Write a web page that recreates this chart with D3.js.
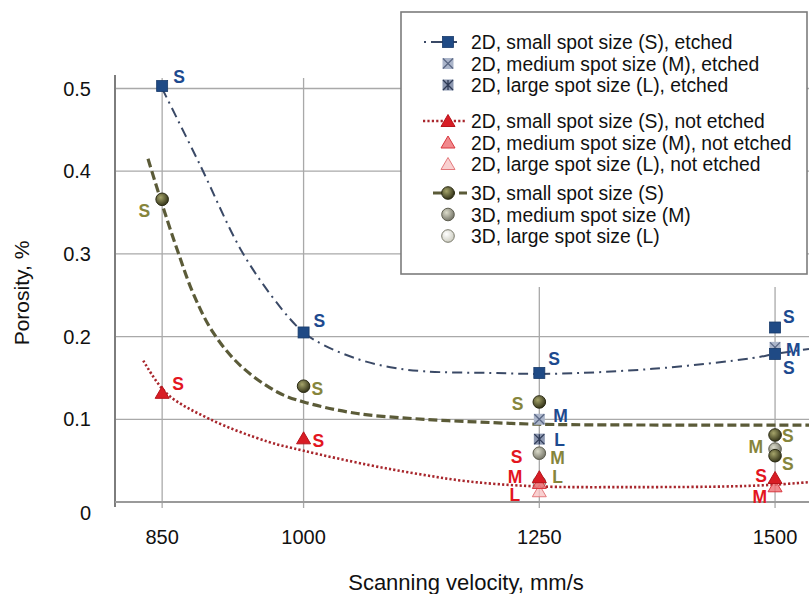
<!DOCTYPE html>
<html>
<head>
<meta charset="utf-8">
<script src="https://cdn.jsdelivr.net/npm/d3@7/dist/d3.min.js"></script>
<style>
  body { margin: 0; background: #fff; }
  svg { display: block; font-family: "Liberation Sans", Arial, sans-serif; }
</style>
</head>
<body>
<svg id="chart" width="809" height="594"></svg>
<script>
const velocityTicks = [850, 1000, 1250, 1500];
const porosityTicks = [0, 0.1, 0.2, 0.3, 0.4, 0.5];

// measured points: [scanning velocity, porosity]
const etched2dS = [[850, 0.503], [1000, 0.205], [1250, 0.156], [1500, 0.211], [1500, 0.179]];
const etched2dM = [[1250, 0.100], [1500, 0.187]];
const etched2dL = [[1250, 0.076]];
const notEtched2dS = [[850, 0.132], [1000, 0.077], [1250, 0.030], [1500, 0.029]];
const notEtched2dM = [[1250, 0.023], [1500, 0.019]];
const notEtched2dL = [[1250, 0.013]];
const solid3dS = [[850, 0.366], [1000, 0.140], [1250, 0.121], [1500, 0.081], [1500, 0.056]];
const solid3dM = [[1250, 0.059], [1500, 0.064]];
const solid3dL = [[1250, 0.024]];

// trend lines
const trendEtched = [[850, 0.5], [890, 0.408], [935, 0.302], [975, 0.236], [1000, 0.205], [1021, 0.19],
  [1057, 0.173], [1092, 0.163], [1128, 0.158], [1200, 0.156], [1262, 0.155], [1370, 0.161], [1476, 0.174],
  [1500, 0.179], [1536, 0.185]];
const trendNotEtched = [[830, 0.171], [855, 0.131], [901, 0.1], [962, 0.073], [1000, 0.062],
  [1068, 0.045], [1121, 0.034], [1174, 0.025], [1245, 0.019], [1351, 0.018], [1457, 0.019], [1500, 0.021],
  [1536, 0.024]];
const trend3d = [[835, 0.415], [850, 0.36], [866, 0.305], [883, 0.252], [904, 0.205], [933, 0.165],
  [972, 0.133], [1000, 0.121], [1057, 0.107], [1128, 0.1], [1200, 0.096], [1250, 0.094], [1400, 0.093],
  [1536, 0.093]];

const legendLabels = [
  "2D, small spot size (S), etched",
  "2D, medium spot size (M), etched",
  "2D, large spot size (L), etched",
  "2D, small spot size (S), not etched",
  "2D, medium spot size (M), not etched",
  "2D, large spot size (L), not etched",
  "3D, small spot size (S)",
  "3D, medium spot size (M)",
  "3D, large spot size (L)"
];

const width = 809;
const height = 594;
const blue = "#1d4a8f";
const red = "#e3161f";
const olive = "#86853c";

const svg = d3.select("#chart");
const x = d3.scaleLinear().domain([800, 1536]).range([115, 809]);
const y = d3.scaleLinear().domain([0, 0.5]).range([502, 88.5]);

const legendBox = { x: 401, y: 12, w: 406, h: 262 };

// gradients for the 3D spheres
const defs = svg.append("defs");
function sphere(id, light, dark) {
  const g = defs.append("radialGradient").attr("id", id)
    .attr("cx", "38%").attr("cy", "35%").attr("r", "65%");
  g.append("stop").attr("offset", "0%").attr("stop-color", light);
  g.append("stop").attr("offset", "100%").attr("stop-color", dark);
}
sphere("g3dS", "#a5a46a", "#35351a");
sphere("g3dM", "#dcdccb", "#77776a");
sphere("g3dL", "#ffffff", "#cfcfc3");

// grid
svg.append("g").selectAll("line").data(porosityTicks.filter(d => d > 0)).join("line")
  .attr("x1", 115).attr("x2", width)
  .attr("y1", d => y(d)).attr("y2", d => y(d))
  .attr("stroke", "#a9a9a9").attr("stroke-width", 1.3);

svg.append("g").selectAll("line").data(velocityTicks).join("line")
  .attr("x1", d => x(d)).attr("x2", d => x(d))
  .attr("y1", d => x(d) > legendBox.x ? legendBox.y + legendBox.h + 13 : 78)
  .attr("y2", 508)
  .attr("stroke", "#a9a9a9").attr("stroke-width", 1.3);

// axes
svg.append("line").attr("x1", 115).attr("x2", 115).attr("y1", 75).attr("y2", 507)
  .attr("stroke", "#7d7d7d").attr("stroke-width", 2);
svg.append("line").attr("x1", 115).attr("x2", width).attr("y1", y(0)).attr("y2", y(0))
  .attr("stroke", "#9a9a9a").attr("stroke-width", 2);

svg.append("g").selectAll("text").data(porosityTicks).join("text")
  .attr("x", 91).attr("y", d => y(d) + (d === 0 ? 18 : 7))
  .attr("text-anchor", "end").attr("font-size", 20).attr("fill", "#111")
  .text(d => d === 0 ? "0" : d3.format(".1f")(d));

svg.append("g").selectAll("text").data(velocityTicks).join("text")
  .attr("x", d => x(d)).attr("y", 544)
  .attr("text-anchor", "middle").attr("font-size", 20).attr("fill", "#111")
  .text(d => d);

svg.append("text").attr("x", 466).attr("y", 590).attr("text-anchor", "middle")
  .attr("font-size", 22).attr("fill", "#111").text("Scanning velocity, mm/s");
svg.append("text").attr("transform", "translate(29,293) rotate(-90)").attr("text-anchor", "middle")
  .attr("font-size", 21).attr("fill", "#111").text("Porosity, %");

// trend lines
const line = d3.line().x(d => x(d[0])).y(d => y(d[1])).curve(d3.curveCatmullRom.alpha(0.5));
const trendStyles = [
  { data: trendEtched, stroke: "#3a4966", width: 2, dash: "10 5 2 5" },
  { data: trendNotEtched, stroke: "#a8262c", width: 2.6, dash: "2.2 2.2" },
  { data: trend3d, stroke: "#5b5b38", width: 3.2, dash: "9 4" }
];
svg.append("g").selectAll("path").data(trendStyles).join("path")
  .attr("d", d => line(d.data)).attr("fill", "none")
  .attr("stroke", d => d.stroke).attr("stroke-width", d => d.width)
  .attr("stroke-dasharray", d => d.dash);

// markers
function marker(g, type, cx, cy) {
  if (type.startsWith("circ")) {
    const k = type.slice(4);
    g.append("circle").attr("cx", cx).attr("cy", cy).attr("r", 6.3)
      .attr("fill", `url(#g3d${k})`)
      .attr("stroke", k === "S" ? "#2b2b14" : k === "M" ? "#5e5e50" : "#7a7a6c")
      .attr("stroke-width", 1);
  } else if (type === "sq") {
    g.append("rect").attr("x", cx - 5.5).attr("y", cy - 5.5).attr("width", 11).attr("height", 11)
      .attr("fill", "#1f4a85").attr("stroke", "#173a6a").attr("stroke-width", 0.8);
  } else if (type === "xsqM" || type === "xsqL") {
    const dark = type === "xsqL";
    g.append("rect").attr("x", cx - 5.5).attr("y", cy - 5.5).attr("width", 11).attr("height", 11)
      .attr("fill", dark ? "#8c97b0" : "#abb5ca");
    const cross = `M${cx - 5},${cy - 5}L${cx + 5},${cy + 5}M${cx + 5},${cy - 5}L${cx - 5},${cy + 5}` +
      (dark ? `M${cx},${cy - 5}L${cx},${cy + 5}` : "");
    g.append("path").attr("d", cross).attr("stroke", dark ? "#2e3a55" : "#5a6784")
      .attr("stroke-width", 1.3).attr("fill", "none");
  } else {
    const k = type.slice(3);
    const fill = { S: "#d81d25", M: "#ee6b70", L: "#f8c4c4" }[k];
    const stroke = { S: "#b8141b", M: "#d9383f", L: "#e47a7d" }[k];
    g.append("path").attr("d", `M${cx},${cy - 6.5}L${cx + 7},${cy + 5.5}L${cx - 7},${cy + 5.5}Z`)
      .attr("fill", fill).attr("fill-opacity", k === "S" ? 1 : 0.8)
      .attr("stroke", stroke).attr("stroke-width", 1);
  }
}

// draw order and point label placement [dx, baseline offset, anchor]
const seriesList = [
  { data: solid3dL, type: "circL", letter: "L", color: olive, labels: [[13, 1, "start"]] },
  { data: solid3dM, type: "circM", letter: "M", color: olive, labels: [[11, 11, "start"], [-12, 4, "end"]] },
  { data: solid3dS, type: "circS", letter: "S", color: olive,
    labels: [[-12, 18, "end"], [8, 9, "start"], [-16, 8, "end"], [7, 7, "start"], [7, 14, "start"]] },
  { data: etched2dM, type: "xsqM", letter: "M", color: blue, labels: [[14, 3, "start"], [11, 9, "start"]] },
  { data: etched2dL, type: "xsqL", letter: "L", color: blue, labels: [[15, 7, "start"]] },
  { data: etched2dS, type: "sq", letter: "S", color: blue,
    labels: [[11, -3, "start"], [10, -5, "start"], [9, -8, "start"], [8, -5, "start"], [8, 20, "start"]] },
  { data: notEtched2dL, type: "triL", letter: "L", color: red, labels: [[-19, 10, "end"]] },
  { data: notEtched2dM, type: "triM", letter: "M", color: red, labels: [[-17, 0, "end"], [-8, 17, "end"]] },
  { data: notEtched2dS, type: "triS", letter: "S", color: red,
    labels: [[10, -3, "start"], [9, 9, "start"], [-17, -14, "end"], [-8, 4, "end"]] }
];

const markG = svg.append("g");
const labelG = svg.append("g");
seriesList.forEach(s => {
  s.data.forEach((d, i) => {
    const px = x(d[0]);
    const py = y(d[1]);
    marker(markG, s.type, px, py);
    const [dx, dy, anchor] = s.labels[i];
    labelG.append("text").attr("x", px + dx).attr("y", py + dy)
      .attr("text-anchor", anchor).attr("font-size", 17.5).attr("font-weight", "bold")
      .attr("fill", s.color).text(s.letter);
  });
});

// legend
const lg = svg.append("g");
lg.append("rect").attr("x", legendBox.x).attr("y", legendBox.y)
  .attr("width", legendBox.w).attr("height", legendBox.h)
  .attr("fill", "#fff").attr("stroke", "#7c7c7c").attr("stroke-width", 1.6);

const groupTops = [42, 121, 193];
const legendTypes = ["sq", "xsqM", "xsqL", "triS", "triM", "triL", "circS", "circM", "circL"];
legendLabels.forEach((label, i) => {
  const cy = groupTops[Math.floor(i / 3)] + (i % 3) * 21.5;
  if (i % 3 === 0) {
    const st = trendStyles[i / 3];
    const x0 = [424, 423, 433][i / 3];
    lg.append("line").attr("x1", x0).attr("x2", 467).attr("y1", cy).attr("y2", cy)
      .attr("stroke", st.stroke).attr("stroke-width", st.width)
      .attr("stroke-dasharray", i === 0 ? "2 5 12 5 2" : st.dash);
  }
  marker(lg, legendTypes[i], 448, cy);
  lg.append("text").attr("x", 471).attr("y", cy + 7)
    .attr("font-size", 19.3).attr("fill", "#111").text(label);
});
</script>
</body>
</html>
